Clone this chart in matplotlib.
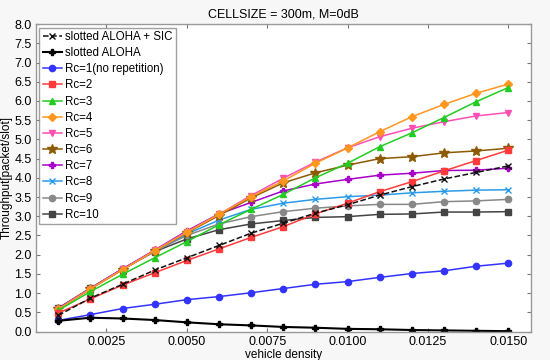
import matplotlib
matplotlib.use("Agg")
import matplotlib.pyplot as plt
import numpy as np

plt.rcParams['font.family'] = ['Liberation Sans', 'DejaVu Sans']

density = [0.001, 0.002, 0.003, 0.004, 0.005, 0.006, 0.007, 0.008,
           0.009, 0.010, 0.011, 0.012, 0.013, 0.014, 0.015]

aloha_sic = [0.42, 0.87, 1.23, 1.60, 1.92, 2.24, 2.56, 2.82, 3.08, 3.30, 3.55, 3.77, 3.97, 4.14, 4.31]
aloha = [0.28, 0.36, 0.34, 0.30, 0.24, 0.19, 0.16, 0.12, 0.10, 0.07, 0.06, 0.04, 0.03, 0.02, 0.01]
rc1 = [0.29, 0.44, 0.60, 0.71, 0.83, 0.91, 1.01, 1.12, 1.23, 1.30, 1.41, 1.51, 1.58, 1.70, 1.78]
rc2 = [0.48, 0.85, 1.21, 1.53, 1.85, 2.15, 2.45, 2.73, 3.06, 3.34, 3.64, 3.90, 4.18, 4.45, 4.72]
rc3 = [0.55, 1.04, 1.49, 1.92, 2.34, 2.78, 3.18, 3.57, 4.00, 4.38, 4.81, 5.17, 5.57, 5.98, 6.35]
rc4 = [0.58, 1.11, 1.61, 2.10, 2.58, 3.05, 3.51, 3.92, 4.38, 4.78, 5.20, 5.59, 5.91, 6.20, 6.44]
rc5 = [0.59, 1.12, 1.62, 2.11, 2.60, 3.05, 3.54, 3.99, 4.41, 4.78, 5.07, 5.29, 5.46, 5.61, 5.70]
rc6 = [0.58, 1.11, 1.61, 2.10, 2.57, 3.02, 3.48, 3.87, 4.13, 4.33, 4.50, 4.55, 4.65, 4.70, 4.77]
rc7 = [0.60, 1.12, 1.63, 2.12, 2.62, 3.06, 3.36, 3.66, 3.84, 3.96, 4.07, 4.12, 4.19, 4.20, 4.25]
rc8 = [0.59, 1.12, 1.62, 2.10, 2.54, 2.90, 3.18, 3.34, 3.44, 3.51, 3.55, 3.61, 3.65, 3.68, 3.69]
rc9 = [0.60, 1.12, 1.62, 2.09, 2.50, 2.80, 2.99, 3.12, 3.21, 3.27, 3.31, 3.31, 3.38, 3.40, 3.44]
rc10 = [0.61, 1.13, 1.63, 2.08, 2.41, 2.65, 2.80, 2.89, 2.97, 2.99, 3.05, 3.06, 3.11, 3.11, 3.12]

labels = ["slotted ALOHA + SIC", "slotted ALOHA", "Rc=1(no repetition)", "Rc=2", "Rc=3",
          "Rc=4", "Rc=5", "Rc=6", "Rc=7", "Rc=8", "Rc=9", "Rc=10"]
series = [aloha_sic, aloha, rc1, rc2, rc3, rc4, rc5, rc6, rc7, rc8, rc9, rc10]
colors = ["#111111", "#000000", "#3333ff", "#ff3b3b", "#22cc22", "#ff961e", "#ff4fb4",
          "#8c5a00", "#a800c8", "#2a9be8", "#888888", "#444444"]
markers = ["x", "P", "o", "s", "^", "D", "v", "*", "P", "x", "o", "s"]
styles = ["--", "-", "-", "-", "-", "-", "-", "-", "-", "-", "-", "-"]
msizes = [4.5, 5, 4.5, 4.5, 5, 4.5, 5, 7, 5, 4.5, 4.5, 4.5]
widths = [1.1, 1.5, 1.1, 1.1, 1.1, 1.1, 1.1, 1.1, 1.1, 1.1, 1.1, 1.1]

fig = plt.figure(figsize=(5.5, 3.6), dpi=100, facecolor="#f7f7f7")
ax = fig.add_axes([0.065, 0.079, 0.9, 0.854])
ax.set_facecolor("#ffffff")

order = list(range(len(series)))[::-1]
handles = {}
for i in order:
    h, = ax.plot(density, series[i], linestyle=styles[i], color=colors[i], marker=markers[i],
                 markersize=msizes[i], linewidth=widths[i], label=labels[i],
                 markeredgewidth=1.0)
    handles[i] = h

ax.set_xlim(0.0003, 0.0157)
ax.set_ylim(0, 8)
ax.set_xticks([0.0025, 0.0050, 0.0075, 0.0100, 0.0125, 0.0150])
ax.set_xticklabels(["0.0025", "0.0050", "0.0075", "0.0100", "0.0125", "0.0150"])
ax.set_yticks(np.arange(0, 8.01, 0.5))
ax.set_yticklabels([f"{v:.1f}" for v in np.arange(0, 8.01, 0.5)])
ax.tick_params(direction="in", top=True, right=True, length=3, color="#777777",
               labelsize=9, pad=3)
for s in ax.spines.values():
    s.set_color("#999999")
    s.set_linewidth(1.0)

ax.set_title("CELLSIZE = 300m, M=0dB", fontsize=9, pad=5)
ax.set_xlabel("vehicle density", fontsize=8.5, labelpad=1)
ax.set_ylabel("Throughput[packet/slot]", fontsize=8.5, labelpad=1)

leg = ax.legend([handles[i] for i in range(len(series))], labels, loc="upper left",
                fontsize=8.3, frameon=True, fancybox=False, handlelength=1.7,
                handletextpad=0.2, labelspacing=0.36, borderpad=0.3,
                borderaxespad=0.3, edgecolor="#888888")
leg.get_frame().set_linewidth(1.0)

fig.savefig("out.png", dpi=100, facecolor=fig.get_facecolor())
